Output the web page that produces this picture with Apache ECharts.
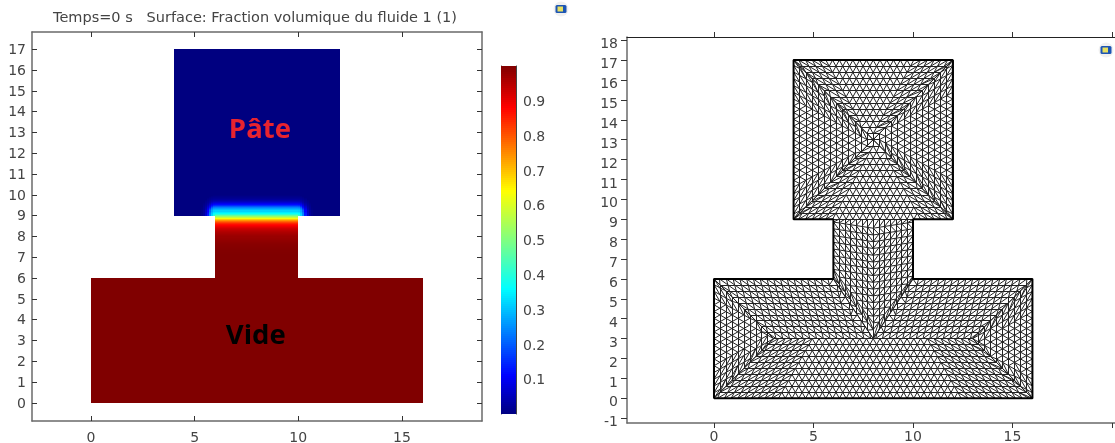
<!DOCTYPE html>
<html><head><meta charset="utf-8">
<style>html,body{margin:0;padding:0;background:#fff;overflow:hidden}#c{width:1115px;height:443px}</style>
<script src="https://cdn.jsdelivr.net/npm/echarts@6/dist/echarts.min.js"></script>
</head><body><div id="c"></div>
<script>
// ---- text and ticks
const titleText = 'Temps=0 s   Surface: Fraction volumique du fluide 1 (1)';
const leftXTicks = [0, 5, 10, 15];
const leftYTicks = [0,1,2,3,4,5,6,7,8,9,10,11,12,13,14,15,16,17];
const rightXTicks = [0, 5, 10, 15, 20];
const rightXLabels = [0, 5, 10, 15];
const rightYTicks = [-1,0,1,2,3,4,5,6,7,8,9,10,11,12,13,14,15,16,17,18];
const barTicks = [0.1,0.2,0.3,0.4,0.5,0.6,0.7,0.8,0.9];
const regionLabels = [['Pâte', 8.15, 13.1, '#e8232e'], ['Vide', 7.95, 3.2, '#000000']];

// ---- geometry: x0,y0,x1,y1 rectangles and the outline of the T
const blueRects = [[4, 9, 12, 17]];
const redRects = [[0, 0, 16, 6], [6, 6, 10, 9]];
const outline = [[0,0],[16,0],[16,6],[10,6],[10,9],[12,9],[12,17],[4,17],[4,9],[6,9],[6,6],[0,6],[0,0]];

// ---- fraction read against distance from the opening at y=9 (steps of 0.1)
const fractionAbove = [.5,.38,.33,.28,.22,.13,.08,.04,.02,.01,0];
const fractionBelow = [.5,.6,.72,.8,.86,.89,.92,.94,.955,.965,.975,.98,.985,.99,.993,.995,.997,.998,.999,1,1];

// ---- jet colour stops
const jetStops = [[0,'#000080'],[.11,'#0000ff'],[.36,'#00ffff'],[.5,'#80ff80'],[.64,'#ffff00'],[.88,'#ff0000'],[1,'#800000']];

// ---- mesh sectors: edge A-B at the boundary, edge C-D inside, rows
const meshSectors = [
  [4,17, 12,17, 8,13, 8,13, 13],
  [12,17, 12,9, 8,13, 8,13, 13],
  [12,9, 4,9, 8,13, 8,13, 13],
  [4,9, 4,17, 8,13, 8,13, 13],
  [0,0, 16,0, 3,3, 13,3, 10],
  [0,6, 0,0, 3,3, 3,3, 10],
  [16,0, 16,6, 13,3, 13,3, 10],
  [0,6, 6,6, 3,3, 8,3, 10],
  [16,6, 10,6, 13,3, 8,3, 10],
  [6,9, 6,6, 8,9, 8,3, 7],
  [10,6, 10,9, 8,3, 8,9, 7]
];
const meshStep = 0.34;

// ---- helpers
function jet(v) {
  for (let i = 1; i < jetStops.length; i++) {
    if (v <= jetStops[i][0]) {
      const a = jetStops[i-1], b = jetStops[i];
      return echarts.color.lerp((v-a[0])/(b[0]-a[0]), [a[1], b[1]]);
    }
  }
  return jetStops[jetStops.length-1][1];
}
function lookup(t, d) {
  const p = d/0.1, i = Math.floor(p);
  if (i >= t.length-1) return t[t.length-1];
  return t[i] + (t[i+1]-t[i])*(p-i);
}
const cells = [];
for (let i = 0; i < 60; i++) for (let j = 0; j < 20; j++) {
  const x = 5+i*.1, y = 9+j*.05;
  const cx = x+.05, cy = y+.025;
  const dx = cx<6 ? 6-cx : cx>10 ? cx-10 : 0;
  cells.push([x, y, x+.1, y+.05, lookup(fractionAbove, Math.hypot(dx*1.4, cy-9))]);
}
for (let i = 0; i < 40; i++) for (let j = 0; j < 40; j++) {
  const x = 6+i*.1, y = 7+j*.05;
  cells.push([x, y, x+.1, y+.05, lookup(fractionBelow, 9-(y+.025))]);
}
const blueCells = blueRects.map(r => [...r, 0]);
const redCells = redRects.map(r => [...r, 1]);
const barCells = [];
for (let i = 0; i < 174; i++) barCells.push([0, i/174, 1, (i+1)/174, (i+.5)/174]);

const segs = [];
meshSectors.forEach(s => {
  const [ax,ay,bx,by,cx,cy,dx,dy,rows] = s;
  let prev = null;
  for (let k = 0; k <= rows; k++) {
    const f = k/rows;
    const px = ax+(cx-ax)*f, py = ay+(cy-ay)*f, qx = bx+(dx-bx)*f, qy = by+(dy-by)*f;
    const len = Math.hypot(qx-px, qy-py);
    const ts = [0];
    if (len > 1e-6) {
      const off = k % 2 ? 0.5 : 0;
      const lim = Math.ceil(len/meshStep);
      for (let m = -lim; m <= lim; m++) {
        const t = 0.5 + (m+off)*meshStep/len;
        if (t > 0.35*meshStep/len && t < 1-0.35*meshStep/len) ts.push(t);
      }
      ts.push(1);
    }
    const row = ts.map(t => [t, px+(qx-px)*t, py+(qy-py)*t]);
    for (let m = 0; m < row.length-1; m++) segs.push([row[m].slice(1), row[m+1].slice(1)]);
    if (prev) {
      let a = 0, b = 0;
      segs.push([prev[0].slice(1), row[0].slice(1)]);
      while (a < prev.length-1 || b < row.length-1) {
        const na = a < prev.length-1 ? prev[a+1][0] : 2;
        const nb = b < row.length-1 ? row[b+1][0] : 2;
        if (na <= nb) a++; else b++;
        segs.push([prev[a].slice(1), row[b].slice(1)]);
      }
    }
    prev = row;
  }
});

// ---- chart
const font = 'DejaVu Sans';
function axis(grid, pos, min, max, ticks, opts) {
  opts = opts || {};
  return {
    type: 'value', gridIndex: grid, position: pos, min, max, scale: true,
    splitLine: {show: false}, minorTick: {show: false},
    axisLine: {show: true, onZero: false, lineStyle: {color: opts.line || '#6a6a6a', width: opts.lineW || 1.5}},
    axisTick: {show: true, inside: !!opts.inside, length: opts.tickLen || 5, customValues: ticks,
               lineStyle: {color: opts.tick || '#333', width: 1}},
    axisLabel: Object.assign({show: !!opts.labels, customValues: opts.labelValues || ticks, inside: false, margin: opts.margin || 8,
                color: '#444', fontFamily: font, fontSize: 14,
                showMinLabel: true, showMaxLabel: true, hideOverlap: false}, opts.labelStyle || {})
  };
}
function rectSeries(data, x, y, name) {
  return {
    type: 'custom', name, xAxisIndex: x, yAxisIndex: y, data, animation: false, silent: true,
    progressive: 0, clip: false,
    encode: {x: [0, 2], y: [1, 3]},
    renderItem(params, api) {
      const p0 = api.coord([api.value(0), api.value(1)]);
      const p1 = api.coord([api.value(2), api.value(3)]);
      const l = Math.round(Math.min(p0[0],p1[0])), r = Math.round(Math.max(p0[0],p1[0]));
      const t = Math.round(Math.min(p0[1],p1[1])), b = Math.round(Math.max(p0[1],p1[1]));
      return {type: 'rect', shape: {x: l, y: t, width: r-l, height: b-t},
        style: {fill: jet(api.value(4))}};
    }
  };
}
const shifted = n => ({verticalAlign: 'top', lineHeight: n});
const option = {
  backgroundColor: '#fff',
  animation: false,
  title: {text: titleText, left: 250, top: 6, textAlign: 'center',
    textStyle: {fontFamily: font, fontSize: 14.5, fontWeight: 'normal', color: '#444'}},
  grid: [
    {left: 32, top: 32, width: 450, height: 389, outerBoundsMode: 'none'},
    {left: 627, top: 37, width: 493, height: 386, outerBoundsMode: 'none'},
    {left: 501, top: 66, width: 15, height: 348, outerBoundsMode: 'none'}
  ],
  xAxis: [
    axis(0, 'bottom', -2.84, 18.86, leftXTicks, {labels: true, inside: true, margin: 10}),
    axis(0, 'top', -2.84, 18.86, leftXTicks, {inside: true}),
    axis(1, 'bottom', -4.37, 20.4, rightXTicks, {labels: true, margin: 7, labelValues: rightXLabels}),
    axis(1, 'top', -4.37, 20.4, rightXTicks, {line: '#222', lineW: 1.2}),
    {type: 'value', gridIndex: 2, min: 0, max: 1, axisLine: {show: false}, axisTick: {show: false}, axisLabel: {show: false}, splitLine: {show: false}}
  ],
  yAxis: [
    axis(0, 'left', -0.87, 17.83, leftYTicks, {labels: true, inside: true, margin: 6, labelStyle: shifted(2)}),
    axis(0, 'right', -0.87, 17.83, leftYTicks, {inside: true}),
    axis(1, 'left', -1.24, 18.16, rightYTicks, {labels: true, margin: 9, tickLen: 6, labelStyle: shifted(9)}),
    axis(2, 'right', 0, 1, barTicks, {labels: true, inside: true, margin: 7, line: '#444', lineW: 1, tick: '#111', tickLen: 3, labelStyle: shifted(3)}),
    axis(2, 'left', 0, 1, barTicks, {inside: true, line: '#444', lineW: 1, tick: '#111', tickLen: 3})
  ],
  series: [
    rectSeries(blueCells, 0, 0, 'blue'),
    rectSeries(redCells, 0, 0, 'red'),
    rectSeries(cells, 0, 0, 'fraction'),
    rectSeries(barCells, 4, 3, 'colorbar'),
    {type: 'custom', xAxisIndex: 0, yAxisIndex: 0, silent: true, animation: false, z: 5, data: regionLabels,
     encode: {x: 1, y: 2},
     renderItem(params, api) {
       const p = api.coord([api.value(1), api.value(2)]);
       const d = regionLabels[params.dataIndex];
       return {type: 'text', style: {text: d[0], x: p[0], y: p[1], align: 'center', verticalAlign: 'middle',
         fill: d[3], font: 'bold 27.5px "Open Sans"'}};
     }},
    {type: 'lines', coordinateSystem: 'cartesian2d', xAxisIndex: 2, yAxisIndex: 2, data: segs.map(c => ({coords: c})),
     lineStyle: {color: '#222', width: 1, opacity: 1}, silent: true, animation: false, progressive: 0, large: false, clip: false, z: 3},
    {type: 'line', xAxisIndex: 2, yAxisIndex: 2, data: outline, showSymbol: false, symbol: 'none', silent: true, animation: false, clip: false, z: 4,
     lineStyle: {color: '#000', width: 2}}
  ],
  graphic: [[561,9],[1106,50]].map(c => ({type: 'group', x: c[0], y: c[1], silent: true, children: [
    {type: 'circle', shape: {cx: 0, cy: 0, r: 7.5}, style: {fill: '#f0f0f0'}},
    {type: 'rect', shape: {x: -5.5, y: -4, width: 11, height: 8, r: 1.5}, style: {fill: '#1c55b4'}},
    {type: 'rect', shape: {x: -3.5, y: -2.5, width: 5.5, height: 5}, style: {fill: '#e8e060'}}
  ]}))
};
const chart = echarts.init(document.getElementById('c'), null, {renderer: 'canvas', width: 1115, height: 443});
chart.setOption(option);
</script></body></html>
